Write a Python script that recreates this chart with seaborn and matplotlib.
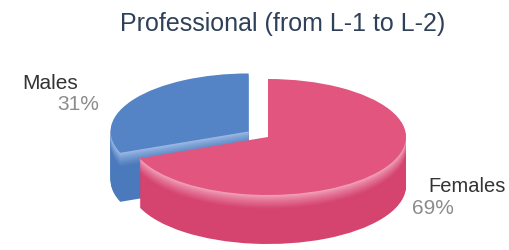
import numpy as np
import matplotlib
matplotlib.use("Agg")
import matplotlib.pyplot as plt
import matplotlib.colors as mcolors
import seaborn as sns

# ---- data ----
labels = ["Males", "Females"]
shares = [31, 69]
pct_labels = ["31%", "69%"]
title = "Professional (from L-1 to L-2)"

top_colors = ["#5484c5", "#e2557f"]
side_top = ["#a9c3ec", "#f6b0c6"]
side_bot = ["#4a7abb", "#d5436f"]

sns.set_theme(style="white")
plt.rcParams["font.family"] = ["Liberation Sans", "DejaVu Sans"]

W, H = 509, 251
fig = plt.figure(figsize=(W / 100, H / 100), dpi=100)
ax = fig.add_axes([0, 0, 1, 1])

rx, ry = 138.0, 58.0
k = rx / ry              # vertical squash factor (data units per pixel)
cx, cy_px = 268.0, 138.0
depth = 49
explode_frac = [0.17, 0.0]
explode = [e * rx for e in explode_frac]


def ypx(y):
    return (H - y) * k


n = depth
for i in range(n, -1, -1):
    t = i / n
    cols = []
    for j in range(2):
        c0 = np.array(mcolors.to_rgb(side_top[j]))
        c1 = np.array(mcolors.to_rgb(side_bot[j]))
        f = min(1.0, t / 0.3) ** 0.7
        cols.append(c0 * (1 - f) + c1 * f)
    if i == 0:
        cols = top_colors
    wedges, _ = ax.pie(shares, colors=cols, startangle=90, counterclock=True,
                       radius=rx, center=(cx, ypx(cy_px + i)), explode=explode,
                       wedgeprops=dict(linewidth=0), frame=True)
    for j, w in enumerate(wedges):
        w.set_zorder(j * 200 + (n - i) + 1)

ax.set_aspect("auto")
ax.set_xlim(0, W)
ax.set_ylim(0, H * k)
ax.axis("off")

fig.text(283 / W, 1 - 24 / H, title, ha="center", va="center",
         fontsize=18, color="#2f4058")
fig.text(22 / W, 1 - 84 / H, labels[0], ha="left", va="center",
         fontsize=15, color="#333333")
fig.text(99 / W, 1 - 105 / H, pct_labels[0], ha="right", va="center",
         fontsize=15, color="#8c8c8c")
fig.text(428 / W, 1 - 186 / H, labels[1], ha="left", va="center",
         fontsize=14.5, color="#333333")
fig.text(412 / W, 1 - 208 / H, pct_labels[1], ha="left", va="center",
         fontsize=15, color="#8c8c8c")

fig.savefig("out.png", dpi=100, facecolor="white")
